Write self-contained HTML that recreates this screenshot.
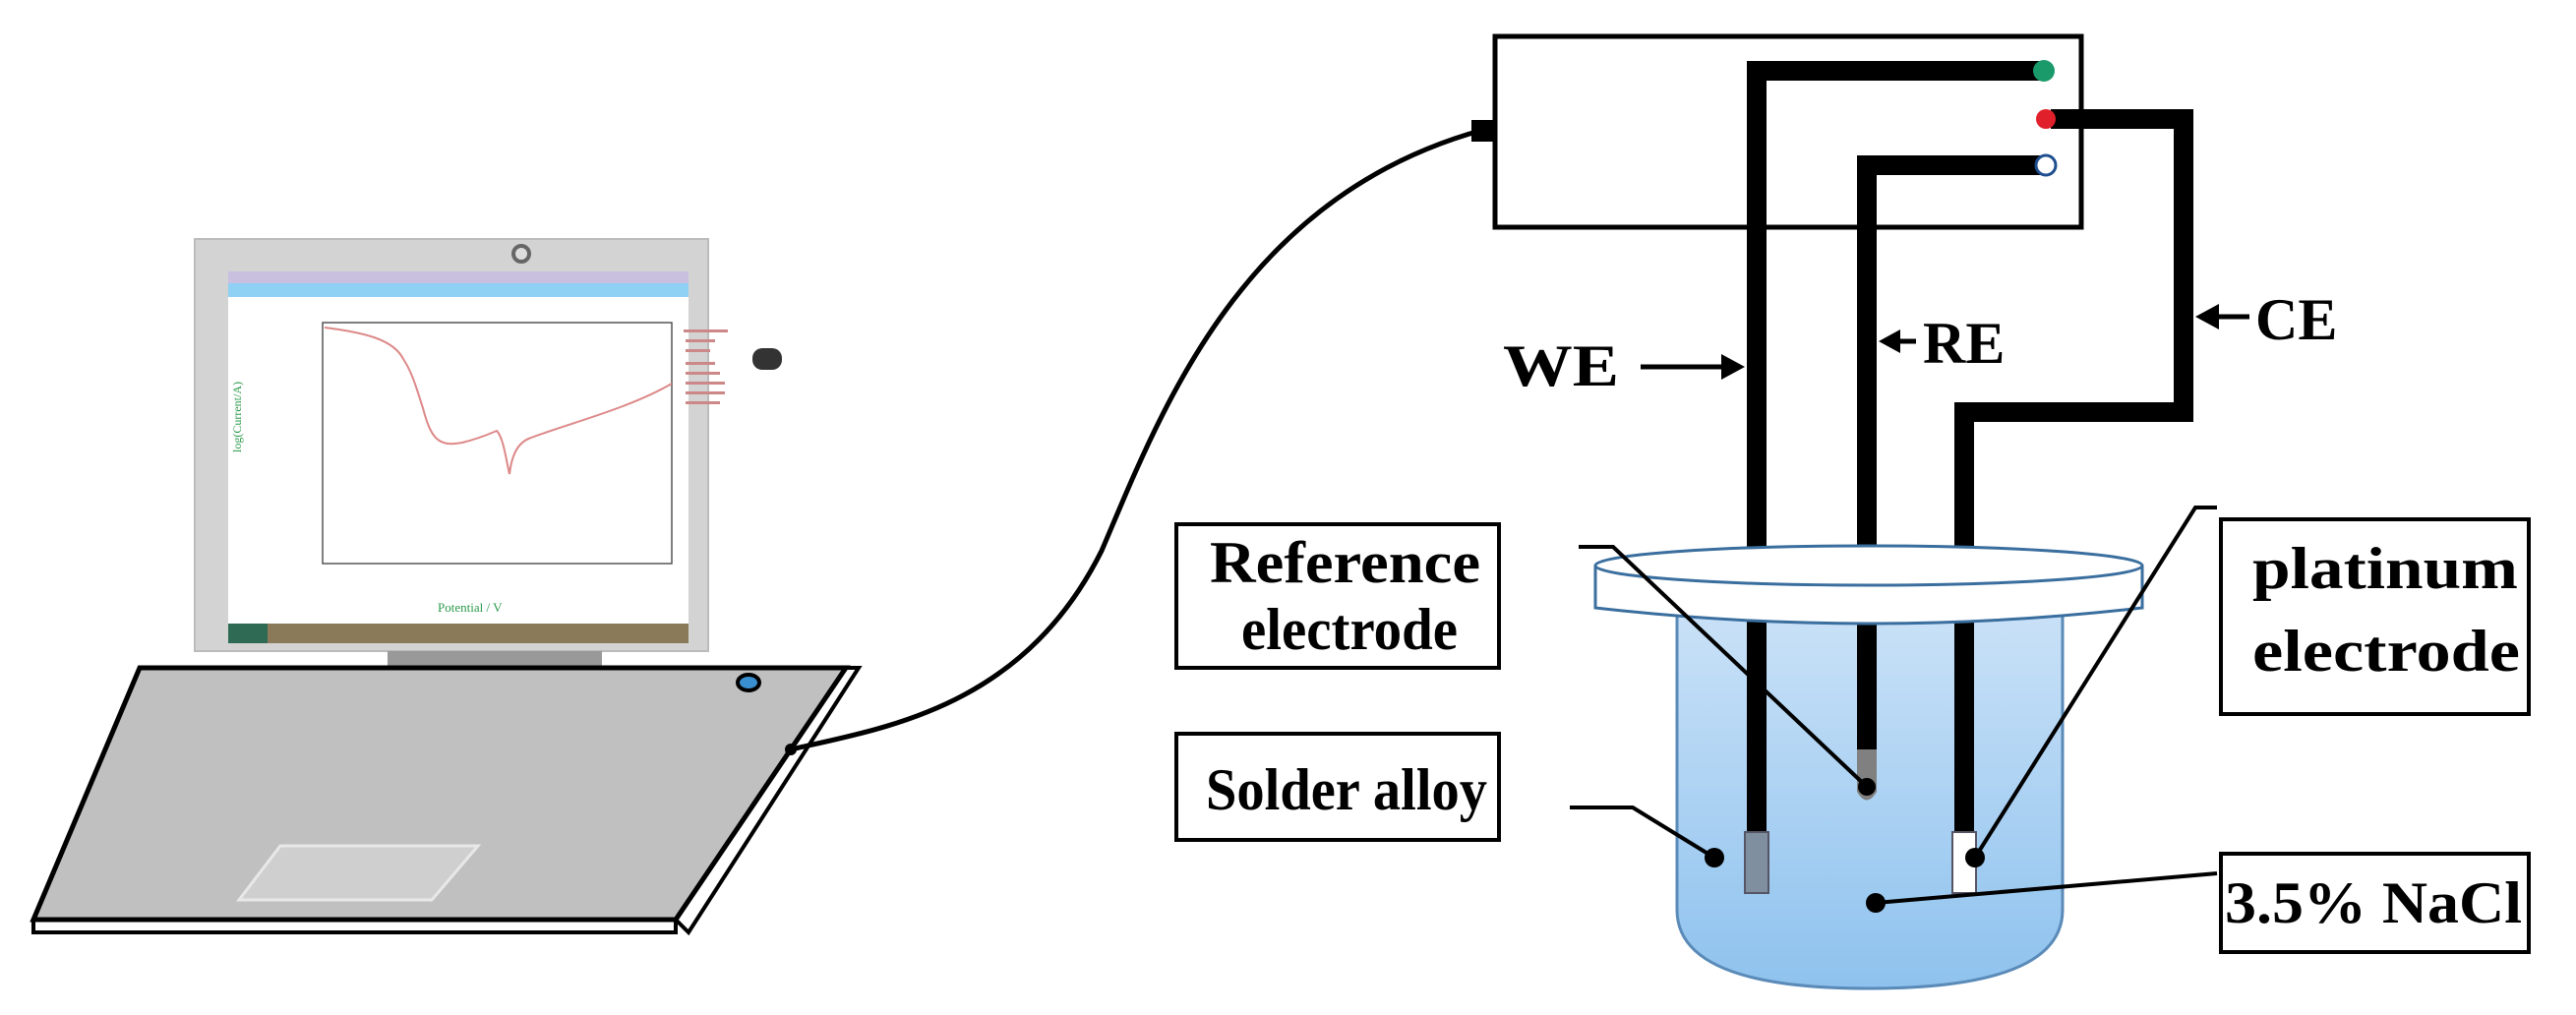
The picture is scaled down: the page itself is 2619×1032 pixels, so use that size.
<!DOCTYPE html>
<html><head><meta charset="utf-8"><style>
html,body{margin:0;padding:0;background:#fff;}
svg{display:block;}
text{font-family:"Liberation Serif",serif;font-weight:bold;fill:#000;}
</style></head><body>
<svg width="2619" height="1032" viewBox="0 0 2619 1032" xmlns="http://www.w3.org/2000/svg">
<defs>
<linearGradient id="water" x1="0" y1="0" x2="0" y2="1">
<stop offset="0" stop-color="#c9e1f7"/><stop offset="1" stop-color="#8ec2ee"/>
</linearGradient>
</defs>
<rect x="198" y="243" width="522" height="419" fill="#d3d3d3" stroke="#bbb" stroke-width="2"/>
<circle cx="530" cy="258" r="8" fill="#ddd" stroke="#666" stroke-width="4"/>
<rect x="232" y="276" width="468" height="12" fill="#c9c0e0"/>
<rect x="232" y="288" width="468" height="14" fill="#8fd0f5"/>
<rect x="232" y="302" width="468" height="340" fill="#fff"/>
<rect x="232" y="634" width="468" height="20" fill="#8a7a5a"/>
<rect x="232" y="634" width="40" height="20" fill="#2f6a55"/>
<rect x="328" y="328" width="355" height="245" fill="none" stroke="#555" stroke-width="1.5"/>
<path d="M330,333 C370,338 400,345 410,365 C420,380 425,400 430,415 C438,445 445,455 470,450 C490,445 500,440 505,438 C512,445 515,470 518,482 C520,465 525,450 540,445 C580,430 640,415 683,390" fill="none" stroke="#d88" stroke-width="2"/>
<text x="245" y="460" font-size="12" style="font-weight:normal;fill:#2a9a4a" transform="rotate(-90 245 460)">log(Current/A)</text>
<text x="445" y="622" font-size="13" style="font-weight:normal;fill:#2a9a4a">Potential / V</text>
<g fill="#c88"><rect x="695" y="335" width="45" height="3"/><rect x="697" y="345" width="30" height="3"/><rect x="697" y="355" width="25" height="3"/><rect x="697" y="368" width="30" height="3"/><rect x="697" y="378" width="35" height="3"/><rect x="697" y="388" width="40" height="3"/><rect x="697" y="398" width="40" height="3"/><rect x="697" y="408" width="35" height="3"/></g>
<rect x="765" y="354" width="30" height="22" rx="10" fill="#333"/>
<rect x="394" y="662" width="218" height="17" fill="#999"/>
<polygon points="34,935 687,935 687,948 34,948" fill="#fff" stroke="#000" stroke-width="4"/>
<polygon points="860,679 873,679 700,948 687,935" fill="#fff" stroke="#000" stroke-width="4"/>
<polygon points="142,679 860,679 687,935 34,935" fill="#c0c0c0" stroke="#000" stroke-width="5"/>
<polygon points="285,860 486,860 439,915 243,915" fill="#cfcfcf" stroke="#e8e8e8" stroke-width="3"/>
<ellipse cx="761" cy="694" rx="11" ry="8" fill="#3a8fd0" stroke="#000" stroke-width="4"/>
<path d="M804,762 C900,740 1040,720 1120,560 C1180,420 1260,200 1508,132" fill="none" stroke="#000" stroke-width="5"/>
<circle cx="804" cy="762" r="6" fill="#000"/>
<rect x="1496" y="122" width="26" height="22" fill="#000"/>
<rect x="1520" y="37" width="596" height="194" fill="#fff" stroke="#000" stroke-width="5"/>
<g fill="none" stroke="#000" stroke-width="20" stroke-linejoin="miter">
<path d="M2075,72 H1786 V870"/>
<path d="M2075,168 H1898 V790"/>
<path d="M2085,121 H2220 V419 H1997 V860"/>
</g>
<circle cx="2078" cy="72" r="11" fill="#1a9a6a"/>
<circle cx="2080" cy="121" r="10" fill="#e0202a"/>
<circle cx="2080" cy="168" r="10" fill="#fff" stroke="#1e4e8e" stroke-width="3"/>
<path d="M1705,625 V925 Q1705,1005 1900,1005 Q2097,1005 2097,925 V625 Z" fill="url(#water)" stroke="#5a8ab8" stroke-width="3"/>
<rect x="1776" y="630" width="20" height="220" fill="#000"/>
<rect x="1888" y="630" width="20" height="135" fill="#000"/>
<rect x="1987" y="630" width="20" height="220" fill="#000"/>
<rect x="1774" y="846" width="24" height="62" fill="#7f8f9f" stroke="#556" stroke-width="2"/>
<path d="M1888,762 H1908 V805 Q1898,822 1888,805 Z" fill="#808080"/>
<rect x="1985" y="846" width="24" height="62" fill="#fff" stroke="#556" stroke-width="2"/>
<path d="M1622,575 V618 Q1900,650 2178,618 V575" fill="#fff" stroke="#3a6e9e" stroke-width="3"/>
<ellipse cx="1900" cy="575" rx="278" ry="20" fill="#fff" stroke="#3a6e9e" stroke-width="3"/>
<g fill="none" stroke="#000" stroke-width="4">
<path d="M1605,556 H1640 L1898,800"/>
<path d="M1596,821 H1660 L1743,872"/>
<path d="M2254,516 H2232 L2008,872"/>
<path d="M2254,888 L1907,918"/>
</g>
<circle cx="1898" cy="800" r="9" fill="#000"/>
<circle cx="1743" cy="872" r="10" fill="#000"/>
<circle cx="2008" cy="872" r="10" fill="#000"/>
<circle cx="1907" cy="918" r="10" fill="#000"/>
<g fill="#fff" stroke="#000" stroke-width="4">
<rect x="1196" y="533" width="328" height="146"/>
<rect x="1196" y="746" width="328" height="108"/>
<rect x="2258" y="528" width="313" height="198"/>
<rect x="2258" y="868" width="313" height="100"/>
</g>
<g font-size="60">
<text x="1230" y="592" textLength="275" lengthAdjust="spacingAndGlyphs">Reference</text>
<text x="1262" y="660" textLength="220" lengthAdjust="spacingAndGlyphs">electrode</text>
<text x="1226" y="823" textLength="286" lengthAdjust="spacingAndGlyphs">Solder alloy</text>
<text x="2290" y="598" textLength="270" lengthAdjust="spacingAndGlyphs">platinum</text>
<text x="2290" y="682" textLength="272" lengthAdjust="spacingAndGlyphs">electrode</text>
<text x="2262" y="938" textLength="302" lengthAdjust="spacingAndGlyphs">3.5% NaCl</text>
<text x="1528" y="392" textLength="118" lengthAdjust="spacingAndGlyphs">WE</text>
<text x="1955" y="369">RE</text>
<text x="2293" y="345">CE</text>
</g>
<g stroke="#000" stroke-width="5">
<line x1="1668" y1="373" x2="1755" y2="373"/>
<line x1="1948" y1="347" x2="1925" y2="347"/>
<line x1="2287" y1="322" x2="2250" y2="322"/>
</g>
<polygon points="1774,373 1750,360 1750,386" fill="#000"/>
<polygon points="1910,347 1932,335 1932,359" fill="#000"/>
<polygon points="2232,322 2256,309 2256,335" fill="#000"/>
</svg>
</body></html>
